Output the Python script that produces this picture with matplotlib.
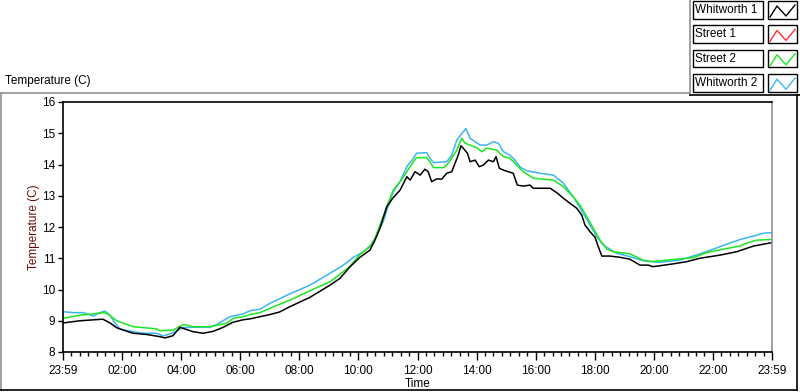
import matplotlib
matplotlib.use("Agg")
import matplotlib.pyplot as plt
from matplotlib.lines import Line2D
from matplotlib.patches import Rectangle

plt.rcParams['font.family'] = ['Liberation Sans', 'DejaVu Sans']

# hours after 23:59 and temperature (C)
w1_hours = [0, 0.58, 1.35, 1.59, 1.83, 2.37, 2.84, 3.28, 3.45, 3.72, 3.96, 4.40, 4.74, 5.08, 5.4,
            5.75, 6.09, 6.33, 6.67, 7.01, 7.33, 7.68, 8.36, 9.04, 9.38, 9.72, 10.05, 10.39, 10.56,
            10.73, 10.96, 11.17, 11.41, 11.64, 11.75, 11.92, 12.09, 12.25, 12.36, 12.48, 12.65,
            12.82, 12.99, 13.16, 13.27, 13.38, 13.47, 13.55, 13.69, 13.78, 13.95, 14.09, 14.23,
            14.40, 14.57, 14.66, 14.77, 14.91, 15.07, 15.24, 15.38, 15.58, 15.81, 15.92, 16.49,
            16.71, 16.94, 17.16, 17.39, 17.56, 17.67, 17.84, 18.01, 18.12, 18.24, 18.52, 18.86,
            19.19, 19.53, 19.81, 19.97, 20.65, 21.11, 21.56, 22.24, 22.81, 23.37, 23.88, 24.0]
w1_temp = [8.93, 9.0, 9.05, 8.93, 8.77, 8.6, 8.56, 8.49, 8.45, 8.52, 8.79, 8.65, 8.6, 8.66, 8.78,
           8.95, 9.03, 9.06, 9.13, 9.2, 9.28, 9.45, 9.75, 10.14, 10.36, 10.73, 11.03, 11.26, 11.58,
           11.96, 12.65, 12.93, 13.18, 13.61, 13.5, 13.77, 13.66, 13.85, 13.77, 13.45, 13.54,
           13.53, 13.72, 13.77, 14.04, 14.3, 14.6, 14.52, 14.36, 14.09, 14.14, 13.93, 13.98,
           14.14, 14.09, 14.25, 13.88, 13.82, 13.77, 13.72, 13.34, 13.31, 13.34, 13.24, 13.24,
           13.1, 12.92, 12.76, 12.6, 12.38, 12.06, 11.85, 11.67, 11.37, 11.07, 11.07, 11.03,
           10.97, 10.78, 10.78, 10.73, 10.82, 10.89, 11.0, 11.1, 11.21, 11.39, 11.48, 11.5]

s2_hours = [0, 0.58, 1.03, 1.36, 1.48, 1.82, 2.04, 2.38, 3.17, 3.28, 3.73, 4.07, 4.41, 4.98, 5.54,
            5.77, 6.10, 6.33, 6.67, 7.01, 7.68, 8.36, 9.04, 9.49, 9.72, 10.05, 10.39, 10.56, 10.73,
            10.96, 11.18, 11.41, 11.64, 11.86, 11.97, 12.31, 12.42, 12.54, 12.87, 12.99, 13.16,
            13.33, 13.5, 13.61, 13.78, 14.0, 14.17, 14.34, 14.68, 14.91, 15.13, 15.36, 15.58,
            15.81, 15.92, 16.6, 16.94, 17.27, 17.5, 17.73, 17.95, 18.18, 18.41, 18.63, 19.19,
            19.64, 19.87, 20.89, 21.34, 21.79, 22.35, 22.92, 23.14, 23.48, 24.0]
s2_temp = [9.08, 9.18, 9.22, 9.26, 9.24, 9.0, 8.92, 8.81, 8.74, 8.68, 8.7, 8.88, 8.81, 8.81, 8.92,
           9.08, 9.13, 9.2, 9.26, 9.4, 9.66, 9.96, 10.25, 10.57, 10.75, 11.12, 11.37, 11.64, 12.06,
           12.65, 13.18, 13.45, 13.77, 14.09, 14.22, 14.22, 14.09, 13.9, 13.9, 13.98, 14.2,
           14.46, 14.84, 14.68, 14.62, 14.54, 14.41, 14.52, 14.46, 14.25, 14.2, 13.98, 13.77,
           13.63, 13.56, 13.5, 13.29, 12.97, 12.7, 12.33, 11.96, 11.58, 11.29, 11.21, 11.14,
           10.94, 10.89, 10.98, 11.02, 11.18, 11.29, 11.39, 11.48, 11.58, 11.6]

w2_hours = [0, 0.35, 0.69, 1.03, 1.25, 1.42, 1.59, 1.76, 1.93, 2.38, 2.72, 3.17, 3.4, 3.73, 4.07,
            4.41, 4.98, 5.2, 5.65, 6.1, 6.33, 6.67, 7.01, 7.68, 8.36, 9.04, 9.49, 9.83, 10.17,
            10.5, 10.67, 10.84, 10.96, 11.18, 11.41, 11.64, 11.86, 11.97, 12.31, 12.42, 12.54,
            12.99, 13.16, 13.33, 13.5, 13.64, 13.78, 13.95, 14.12, 14.34, 14.57, 14.73, 14.91,
            15.13, 15.3, 15.47, 15.7, 16.15, 16.6, 16.94, 17.27, 17.61, 17.84, 18.07, 18.29,
            18.74, 19.19, 19.64, 20.21, 20.89, 21.56, 22.01, 22.47, 22.92, 23.37, 23.71, 24.0]
w2_temp = [9.29, 9.26, 9.26, 9.15, 9.26, 9.31, 9.18, 8.92, 8.73, 8.65, 8.6, 8.6, 8.51, 8.62, 8.78,
           8.79, 8.79, 8.88, 9.13, 9.22, 9.32, 9.37, 9.56, 9.86, 10.14, 10.52, 10.78, 11.03, 11.21,
           11.48, 11.85, 12.17, 12.54, 13.13, 13.45, 13.93, 14.2, 14.36, 14.38, 14.2, 14.06,
           14.09, 14.3, 14.78, 14.99, 15.15, 14.84, 14.73, 14.62, 14.62, 14.73, 14.68, 14.41,
           14.3, 14.14, 13.92, 13.8, 13.72, 13.66, 13.4, 12.97, 12.44, 12.06, 11.69, 11.42,
           11.16, 11.05, 10.92, 10.87, 10.94, 11.14, 11.29, 11.45, 11.6, 11.71, 11.8, 11.82]

legend_names = ["Whitworth 1", "Street 1", "Street 2", "Whitworth 2"]
legend_colors = ["#000000", "#ff3030", "#1ee61e", "#3cb4f0"]

x_ticks = [0, 2, 4, 6, 8, 10, 12, 14, 16, 18, 20, 22, 24]
x_labels = ["23:59", "02:00", "04:00", "06:00", "08:00", "10:00", "12:00",
            "14:00", "16:00", "18:00", "20:00", "22:00", "23:59"]
y_ticks = [8, 9, 10, 11, 12, 13, 14, 15, 16]

W, H = 800, 392
FS = 8.5
fig = plt.figure(figsize=(W / 100, H / 100), dpi=100)
fig.patch.set_facecolor("white")

def fx(x):
    return x / W

def fy(y):
    return 1 - y / H

ax = fig.add_axes([fx(63), fy(352), fx(772) - fx(63), fy(102) - fy(352)])

ax.plot(w2_hours, w2_temp, color=legend_colors[3], lw=1.1)
ax.plot(s2_hours, s2_temp, color=legend_colors[2], lw=1.1)
ax.plot(w1_hours, w1_temp, color=legend_colors[0], lw=1.1)

ax.set_xlim(0, 24)
ax.set_ylim(8, 16)
ax.set_xticks(x_ticks)
ax.set_xticklabels(x_labels)
ax.set_xticks([i * 2 / 7 for i in range(85)], minor=True)
ax.set_yticks(y_ticks)
ax.tick_params(axis='x', which='major', length=6, width=1, labelsize=FS, pad=3)
ax.tick_params(axis='x', which='minor', length=3, width=1)
ax.tick_params(axis='y', which='major', length=3.5, width=1, labelsize=FS, pad=2)
for s in ['left', 'bottom', 'top']:
    ax.spines[s].set_color('black')
    ax.spines[s].set_linewidth(1.2)
ax.spines['right'].set_color('#909090')
ax.spines['right'].set_linewidth(1.2)

ax.set_ylabel("Temperature (C)", color="#6b0a0a", fontsize=FS)
ax.yaxis.set_label_coords(-0.033, 0.5)
ax.set_xlabel("Time", fontsize=FS, labelpad=1)

# outer frame
fig.add_artist(Line2D([fx(1), fx(1)], [fy(93), fy(390)], color='#909090', lw=1.2))
fig.add_artist(Line2D([fx(0), fx(797)], [fy(390), fy(390)], color='black', lw=1.2))
fig.add_artist(Line2D([fx(797), fx(797)], [fy(95), fy(390)], color='black', lw=1.2))
fig.add_artist(Line2D([fx(0), fx(690)], [fy(93), fy(93)], color='#909090', lw=1.2))
fig.add_artist(Line2D([fx(690), fx(690)], [fy(0), fy(95)], color='#909090', lw=1.2))
fig.add_artist(Line2D([fx(690), fx(800)], [fy(95), fy(95)], color='black', lw=1.2))

fig.text(fx(5), fy(81), "Temperature (C)", fontsize=FS, va='center', ha='left')

# legend rows
for i, (name, c) in enumerate(zip(legend_names, legend_colors)):
    top = 1 + i * 24.4
    fig.add_artist(Rectangle((fx(692.5), fy(top + 17.5)), fx(763) - fx(692.5), fy(top) - fy(top + 17.5),
                             fill=False, edgecolor='black', lw=1.0))
    fig.add_artist(Rectangle((fx(767.5), fy(top + 17.5)), fx(797) - fx(767.5), fy(top) - fy(top + 17.5),
                             fill=False, edgecolor='black', lw=1.0))
    fig.text(fx(695), fy(top + 9), name, fontsize=FS, va='center', ha='left')
    zx = [770, 777, 786, 795]
    zy = [top + 16, top + 5, top + 15, top + 4]
    fig.add_artist(Line2D([fx(v) for v in zx], [fy(v) for v in zy], color=c, lw=1.0))

fig.savefig("out.png", dpi=100)
